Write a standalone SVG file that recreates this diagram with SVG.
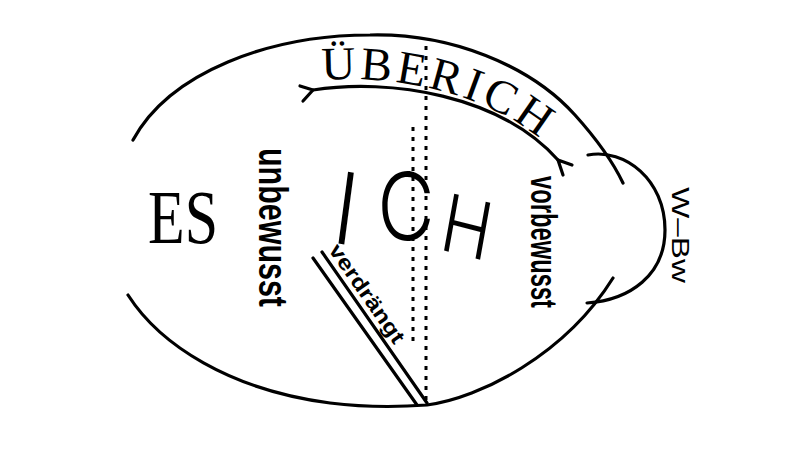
<svg xmlns="http://www.w3.org/2000/svg" width="800" height="454" viewBox="0 0 800 454">
<style>
.ln{fill:none;stroke:#000;stroke-width:3.2;stroke-linecap:round;stroke-linejoin:round}
.dot{fill:none;stroke:#000;stroke-width:3;stroke-dasharray:4 6}
.serif{font-family:"Liberation Serif","Times New Roman",serif;fill:#000}
.sans{font-family:"Liberation Sans",Arial,sans-serif;fill:#000}
.ich{font-family:Inter,"Liberation Sans",sans-serif;font-weight:300;font-size:100px;fill:#000}
</style>
<defs><path id="ubp" d="M300,83 C380,70 500,89 563,161"/></defs>
<rect width="800" height="454" fill="#fff"/>
<g id="connectors">
  <path id="oval-upper" class="ln" d="M133,140 C170,72 270,35 370,35 C450,33 530,65 575,115 C593,135 612,160 623,183"/>
  <path id="oval-lower" class="ln" d="M128,295 C160,345 230,390 330,403 C370,408 400,407 427,405 C480,398 565,355 613,278"/>
  <path id="wbw-arc" class="ln" d="M588,155 C625,148 665,180 665,230 C665,275 630,300 587,303"/>
  <path id="ueberich-arc" class="ln" d="M313,90 C390,78 500,95 558,160"/>
  <path class="ln" d="M300,86 L313,90 L303,101"/>
  <path class="ln" d="M572,165 L558,160 L563,175"/>
  <path id="verdraengt-lines" class="ln" d="M313,258 L417,405 M322,252 L427,403"/>
  <path id="border-long" class="dot" d="M426,46 L426,404"/>
  <path id="border-short" class="dot" d="M413,127 L413,345"/>
</g>
<g id="es"><text class="serif" x="148" y="243" font-size="76" textLength="70" lengthAdjust="spacingAndGlyphs">ES</text></g>
<g id="ich"><text class="ich" transform="scale(0.84,1)"><tspan x="393.5" y="242" rotate="9">I</tspan><tspan x="449" y="240" font-size="94">C</tspan><tspan x="521" y="249" rotate="12" font-size="80">H</tspan></text></g>
<g id="ueberich"><text class="serif" font-size="47" letter-spacing="4"><textPath href="#ubp" startOffset="22">ÜBERICH</textPath></text></g>
<g id="unbewusst"><text class="sans" transform="translate(259,148) rotate(90)" font-size="40" font-weight="bold" textLength="159" lengthAdjust="spacingAndGlyphs">unbewusst</text></g>
<g id="vorbewusst"><text class="sans" transform="translate(531,176) rotate(90)" font-size="36" font-weight="bold" textLength="132" lengthAdjust="spacingAndGlyphs">vorbewusst</text></g>
<g id="w-bw"><text class="sans" transform="translate(672,187) rotate(90)" font-size="24" textLength="96" lengthAdjust="spacingAndGlyphs">W–Bw</text></g>
<g id="verdraengt"><text class="sans" transform="translate(328,250) rotate(55.2)" font-size="21" font-weight="bold" textLength="116" lengthAdjust="spacingAndGlyphs">verdrängt</text></g>
</svg>
